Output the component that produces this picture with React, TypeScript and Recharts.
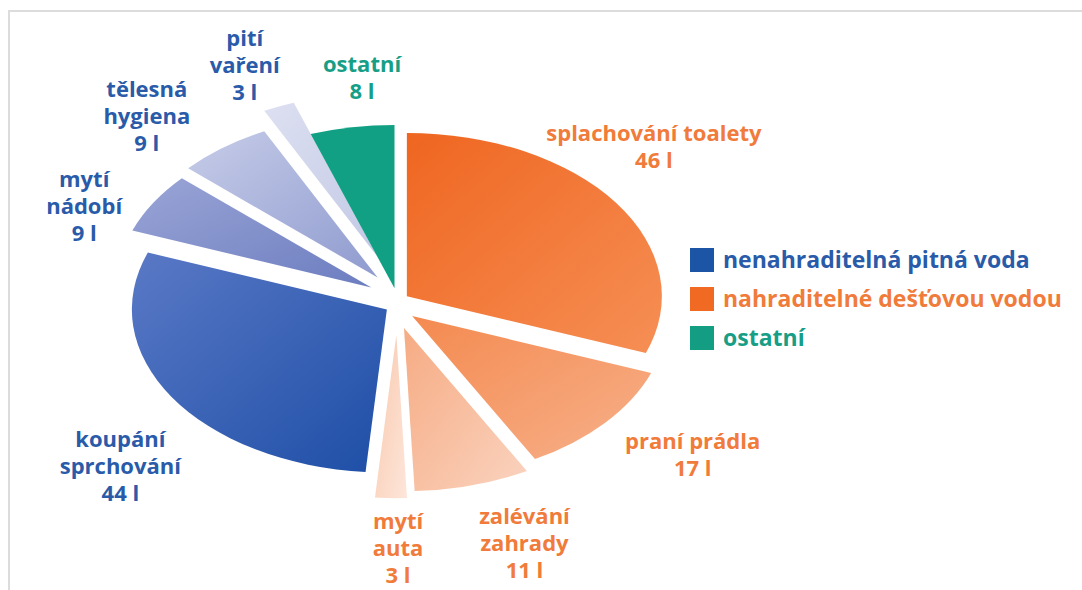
import React from 'react';
import { PieChart, Pie, Legend } from 'recharts';

// ---- data ----
const categories = [
  'splachování toalety',
  'praní prádla',
  'zalévání\nzahrady',
  'mytí\nauta',
  'koupání\nsprchování',
  'mytí\nnádobí',
  'tělesná\nhygiena',
  'pití\nvaření',
  'ostatní',
];
const litres = [46, 17, 11, 3, 44, 9, 9, 3, 8];
const groups = ['rain', 'rain', 'rain', 'rain', 'drink', 'drink', 'drink', 'drink', 'other'];
const unit = 'l';
const legendKeys = ['drink', 'rain', 'other'];
const legendLabels = ['nenahraditelná pitná voda', 'nahraditelné dešťovou vodou', 'ostatní'];

// ---- styles ----
const FONT = '"Open Sans", "DejaVu Sans", sans-serif';
const FONT_SIZE = 22;
const LEGEND_FONT_SIZE = 23;
const LINE_H = 27;
const GROUP_TEXT: Record<string, string> = { drink: '#2a5ba9', rain: '#f07b3a', other: '#179e86' };
const GROUP_SWATCH: Record<string, string> = { drink: '#1c54a6', rain: '#f06a24', other: '#139e84' };
const SLICE_GRAD = [
  ['#ef6620', '#f68f55'],
  ['#f48a50', '#f7b08a'],
  ['#f6ab83', '#fad3bf'],
  ['#f9c8ad', '#fde6da'],
  ['#5a79c6', '#1d4ea6'],
  ['#9aa5d6', '#6c7dc0'],
  ['#c6cce8', '#8f9bcf'],
  ['#dde0f1', '#c3c9e6'],
  ['#11a083', '#11a083'],
];
const EXPLODE = [12, 20, 26, 32, 12, 30, 32, 50, 15];
const SQUASH = 0.64;
const LABEL_R = 1.48;
const LABEL_DY = -4;
const LABEL_NUDGE = [
  [-53, -16], [10, -3.5], [26, 10], [9, 7], [42, 37], [10, 31], [-22, 8], [-6, -12], [28, 16],
];

const data = categories.map((name, i) => ({ name, value: litres[i], group: groups[i], idx: i }));

const RAD = Math.PI / 180;

function EllipseSlice(props: any) {
  const { cx, cy, outerRadius, startAngle, endAngle } = props;
  const idx = props.payload?.idx ?? props.idx ?? props.index ?? 0;
  const a1 = Math.max(startAngle, endAngle);
  const a2 = Math.min(startAngle, endAngle);
  const mid = (a1 + a2) / 2;
  const d = EXPLODE[idx];
  const tx = cx + d * Math.cos(mid * RAD);
  const ty = cy - d * Math.sin(mid * RAD);
  const rx = outerRadius;
  const ry = outerRadius * SQUASH;
  const p = (a: number) => [tx + rx * Math.cos(a * RAD), ty - ry * Math.sin(a * RAD)];
  const [sx, sy] = p(a1);
  const [ex, ey] = p(a2);
  const large = a1 - a2 > 180 ? 1 : 0;
  const path = `M${tx},${ty} L${sx},${sy} A${rx},${ry} 0 ${large} 1 ${ex},${ey} Z`;
  return <path d={path} fill={`url(#slice${idx})`} stroke="none" />;
}

function renderLabel(props: any) {
  const { cx, cy, outerRadius, midAngle, value } = props;
  const idx = props.payload?.idx ?? props.idx ?? props.index ?? 0;
  const ax = cx + outerRadius * LABEL_R * Math.cos(midAngle * RAD) + LABEL_NUDGE[idx][0];
  const ay =
    cy - outerRadius * SQUASH * LABEL_R * Math.sin(midAngle * RAD) + LABEL_NUDGE[idx][1] + LABEL_DY;
  const lines = [...categories[idx].split('\n'), `${value} ${unit}`];
  const top = ay - ((lines.length - 1) * LINE_H) / 2;
  return (
    <text
      key={`lbl${idx}`}
      x={ax}
      y={top}
      textAnchor="middle"
      fill={GROUP_TEXT[groups[idx]]}
      fontFamily={FONT}
      fontSize={FONT_SIZE}
      fontWeight={700}
    >
      {lines.map((ln, k) => (
        <tspan key={k} x={ax} y={top + k * LINE_H} dominantBaseline="central">
          {ln}
        </tspan>
      ))}
    </text>
  );
}

function LegendContent() {
  return (
    <div style={{ fontFamily: FONT, fontSize: LEGEND_FONT_SIZE, fontWeight: 700, lineHeight: 1 }}>
      {legendKeys.map((k, i) => (
        <div key={k} style={{ display: 'flex', alignItems: 'center', height: 39 }}>
          <div style={{ width: 24, height: 24, background: GROUP_SWATCH[k], marginRight: 9, flexShrink: 0 }} />
          <span style={{ color: GROUP_TEXT[k], whiteSpace: 'nowrap' }}>{legendLabels[i]}</span>
        </div>
      ))}
    </div>
  );
}

export default function App() {
  return (
    <div style={{ position: 'absolute', left: 0, top: 0, width: 1082, height: 590, background: '#fff' }}>
      <div
        style={{
          position: 'absolute',
          left: 8,
          top: 10,
          width: 1074,
          height: 580,
          borderTop: '2px solid #dcdcdc',
          borderLeft: '2px solid #dcdcdc',
        }}
      />
      <PieChart width={1082} height={590} style={{ position: 'absolute', left: 0, top: 0 }}>
        <defs>
          {SLICE_GRAD.map((g, i) => (
            <linearGradient key={i} id={`slice${i}`} x1="0" y1="0" x2="1" y2="1">
              <stop offset="0%" stopColor={g[0]} />
              <stop offset="100%" stopColor={g[1]} />
            </linearGradient>
          ))}
        </defs>
        <Pie
          data={data}
          dataKey="value"
          nameKey="name"
          cx={392}
          cy={298}
          outerRadius={255}
          startAngle={90}
          endAngle={-270}
          isAnimationActive={false}
          shape={EllipseSlice}
          label={renderLabel}
          labelLine={false}
        />
        <Legend
          content={LegendContent}
          wrapperStyle={{ position: 'absolute', left: 690, top: 240, width: 392 }}
        />
      </PieChart>
    </div>
  );
}
